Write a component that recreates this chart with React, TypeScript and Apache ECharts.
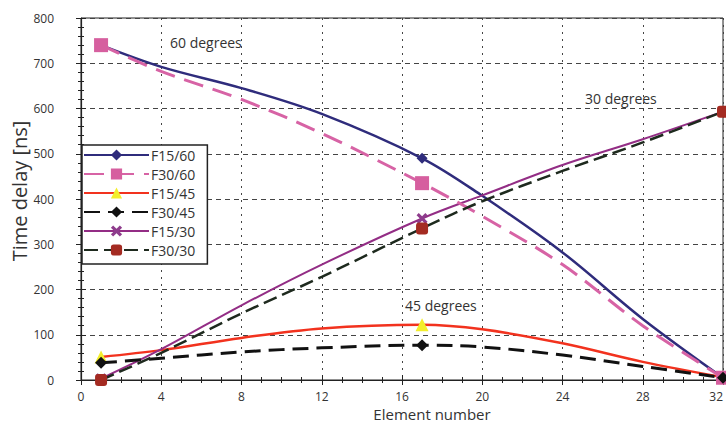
import React, { useEffect, useRef } from "react";
import * as echarts from "echarts";

const elementNumbers = [1, 4, 8, 12, 17, 20, 24, 28, 32];
// Elements that carry a visible marker
const markerElements = [1, 17, 32];

const f15_60 = [740, 692, 645, 588, 490, 407, 282, 135, 5];
const f30_60 = [740, 682, 620, 545, 435, 362, 255, 120, 5];
const f15_45 = [51, 66, 93, 114, 122, 112, 81, 40, 6];
const f30_45 = [38, 48, 62, 71, 77, 73, 55, 30, 5];
const f15_30 = [3, 68, 165, 255, 357, 408, 475, 532, 593];
const f30_30 = [0, 60, 147, 228, 335, 395, 462, 525, 593];

const seriesNames = ["F15/60", "F30/60", "F15/45", "F30/45", "F15/30", "F30/30"];
const annotationTexts = ["60 degrees", "45 degrees", "30 degrees"];

const xTitle = "Element number";
const yTitle = "Time delay [ns]";

const FONT = "'Open Sans', 'Noto Sans', sans-serif";
const crossPath =
  "path://M0,2 L2,0 L5,3 L8,0 L10,2 L7,5 L10,8 L8,10 L5,7 L2,10 L0,8 L3,5 Z";

function toPairs(values: number[]) {
  return elementNumbers.map((x, i) => [x, values[i]]);
}

function sizeFn(size: number) {
  return (val: number[]) => (markerElements.includes(val[0]) ? size : 0);
}

export default function App() {
  const ref = useRef<HTMLDivElement>(null);

  useEffect(() => {
    if (!ref.current) return;
    const chart = echarts.init(ref.current, null, { renderer: "svg" });

    const mk = (
      idx: number,
      values: number[],
      lineColor: string,
      markColor: string,
      width: number,
      dash: number[] | "solid",
      symbol: string,
      size: number,
      z: number
    ) => ({
      name: seriesNames[idx],
      type: "line",
      data: toPairs(values),
      smooth: 0.35,
      symbol,
      symbolSize: sizeFn(size),
      showSymbol: true,
      showAllSymbol: true,
      z,
      lineStyle: { color: lineColor, width, type: dash },
      itemStyle: { color: markColor, opacity: 1 },
      emphasis: { disabled: true },
    });

    const option: any = {
      animation: false,
      textStyle: { fontFamily: FONT },
      grid: {
        left: 81,
        right: 3,
        top: 18,
        bottom: 47,
        containLabel: false,
        outerBoundsMode: "none",
        show: true,
        borderColor: "#222",
        borderWidth: 1,
        backgroundColor: "transparent",
      },
      legend: {
        orient: "vertical",
        left: 82,
        top: 145,
        itemWidth: 65,
        itemHeight: 14,
        itemGap: 5,
        padding: [3, 12, 7, 1],
        backgroundColor: "#fff",
        borderColor: "#222",
        borderWidth: 1.5,
        borderRadius: 0,
        textStyle: {
          fontFamily: FONT,
          fontSize: 14,
          color: "#333",
          lineHeight: 14,
          padding: [0, 0, 0, -3],
        },
        data: seriesNames,
      },
      xAxis: [
        {
          type: "value",
          min: 0,
          max: 32,
          interval: 4,
          position: "bottom",
          name: xTitle,
          nameLocation: "middle",
          nameGap: 26,
          nameMoveOverlap: false,
          nameTextStyle: {
            fontFamily: FONT,
            fontSize: 15,
            color: "#333",
            padding: [0, 0, 0, 60],
          },
          axisLine: { show: true, onZero: false, lineStyle: { color: "#222", width: 1.2 } },
          axisTick: { show: true, inside: false, length: 5, lineStyle: { color: "#222" } },
          minorTick: { show: true, splitNumber: 4, length: 3, lineStyle: { color: "#222" } },
          axisLabel: {
            margin: 10,
            fontSize: 12,
            color: "#333",
            fontFamily: FONT,
            alignMaxLabel: "right",
          },
          splitLine: {
            show: true,
            lineStyle: { color: "#444", type: [2, 5], width: 1 },
          },
        },
        {
          type: "value",
          min: 0,
          max: 32,
          interval: 4,
          position: "bottom",
          axisLine: { show: false },
          axisTick: { show: true, inside: true, length: 5, lineStyle: { color: "#222" } },
          minorTick: { show: true, splitNumber: 4, length: 3, lineStyle: { color: "#222" } },
          axisLabel: { show: false },
          splitLine: { show: false },
        },
      ],
      yAxis: [
        {
          type: "value",
          min: 0,
          max: 800,
          interval: 100,
          position: "left",
          name: yTitle,
          nameLocation: "middle",
          nameGap: 52,
          nameRotate: 90,
          nameMoveOverlap: false,
          nameTextStyle: {
            fontFamily: FONT,
            fontSize: 20,
            color: "#333",
            padding: [0, 0, 0, 16],
          },
          axisLine: { show: true, onZero: false, lineStyle: { color: "#222", width: 1.2 } },
          axisTick: { show: true, inside: false, length: 5, lineStyle: { color: "#222" } },
          minorTick: { show: true, splitNumber: 5, length: 3, lineStyle: { color: "#222" } },
          axisLabel: { margin: 27, fontSize: 12, color: "#333", fontFamily: FONT },
          splitLine: {
            show: true,
            lineStyle: { color: "#444", type: [5, 4], width: 1 },
          },
        },
        {
          type: "value",
          min: 0,
          max: 800,
          interval: 100,
          position: "left",
          axisLine: { show: false },
          axisTick: { show: true, inside: true, length: 5, lineStyle: { color: "#222" } },
          minorTick: { show: true, splitNumber: 5, length: 3, lineStyle: { color: "#222" } },
          axisLabel: { show: false },
          splitLine: { show: false },
        },
      ],
      graphic: [
        {
          type: "text",
          left: 170,
          top: 35,
          style: { text: annotationTexts[0], font: `14px ${FONT}`, fill: "#333" },
        },
        {
          type: "text",
          left: 405,
          top: 298,
          style: { text: annotationTexts[1], font: `14px ${FONT}`, fill: "#333" },
        },
        {
          type: "text",
          left: 585,
          top: 91,
          style: { text: annotationTexts[2], font: `14px ${FONT}`, fill: "#333" },
        },
      ],
      series: [
        mk(0, f15_60, "#2f2c7c", "#2f2c7c", 2.5, "solid", "diamond", 11, 3),
        mk(1, f30_60, "#d763a5", "#d65f9f", 3, [20, 10], "rect", 14, 4),
        mk(2, f15_45, "#f2321e", "#f3ee2c", 2.5, "solid", "triangle", 13, 3),
        mk(3, f30_45, "#111111", "#111111", 3, [16, 8], "diamond", 12, 4),
        mk(4, f15_30, "#932d85", "#8e3c8c", 2, "solid", crossPath, 11, 3),
        mk(5, f30_30, "#1e2a1e", "#a42b22", 2.5, [14, 6], "roundRect", 12, 4),
      ],
    };

    chart.setOption(option);
    return () => chart.dispose();
  }, []);

  return (
    <div
      ref={ref}
      style={{ position: "absolute", left: 0, top: 0, width: 726, height: 427, background: "#fff" }}
    />
  );
}
